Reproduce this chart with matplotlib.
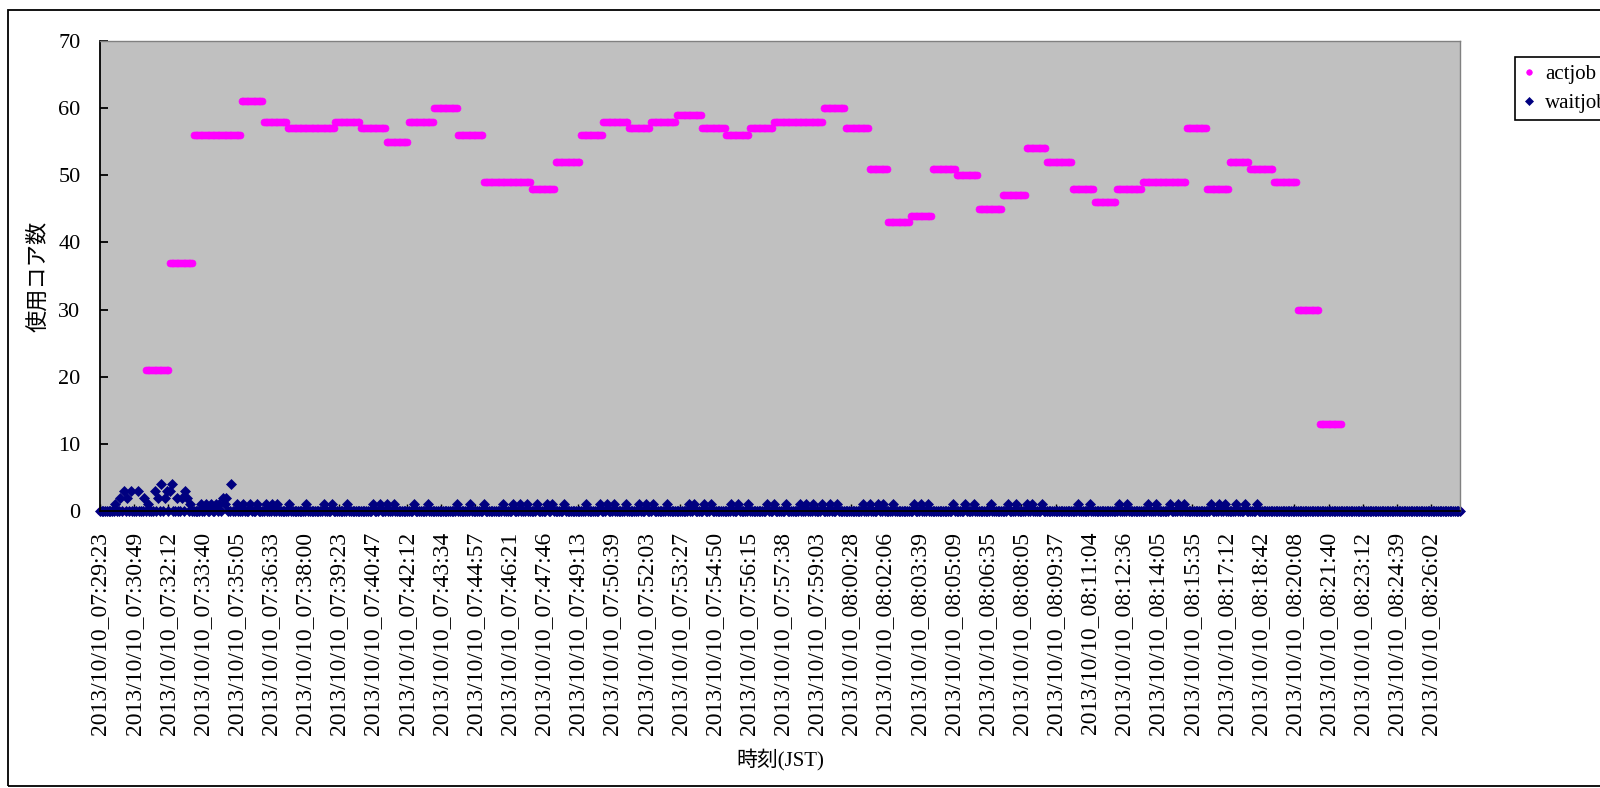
import numpy as np
import matplotlib
matplotlib.use("Agg")
import matplotlib.pyplot as plt
from matplotlib.patches import Rectangle

# latin text in a serif face, japanese falls back to Noto CJK
plt.rcParams['font.family'] = ['Liberation Serif', 'Noto Sans CJK JP']

# category axis: one sample per category, a label every 20 samples
n_samples = 798
label_step = 20

tick_labels = [
    "2013/10/10_07:29:23", "2013/10/10_07:30:49", "2013/10/10_07:32:12", "2013/10/10_07:33:40",
    "2013/10/10_07:35:05", "2013/10/10_07:36:33", "2013/10/10_07:38:00", "2013/10/10_07:39:23",
    "2013/10/10_07:40:47", "2013/10/10_07:42:12", "2013/10/10_07:43:34", "2013/10/10_07:44:57",
    "2013/10/10_07:46:21", "2013/10/10_07:47:46", "2013/10/10_07:49:13", "2013/10/10_07:50:39",
    "2013/10/10_07:52:03", "2013/10/10_07:53:27", "2013/10/10_07:54:50", "2013/10/10_07:56:15",
    "2013/10/10_07:57:38", "2013/10/10_07:59:03", "2013/10/10_08:00:28", "2013/10/10_08:02:06",
    "2013/10/10_08:03:39", "2013/10/10_08:05:09", "2013/10/10_08:06:35", "2013/10/10_08:08:05",
    "2013/10/10_08:09:37", "2013/10/10_08:11:04", "2013/10/10_08:12:36", "2013/10/10_08:14:05",
    "2013/10/10_08:15:35", "2013/10/10_08:17:12", "2013/10/10_08:18:42", "2013/10/10_08:20:08",
    "2013/10/10_08:21:40", "2013/10/10_08:23:12", "2013/10/10_08:24:39", "2013/10/10_08:26:02",
]

# actjob: core count levels and how many samples each level lasts
act_levels = [0, 21, 37, 56, 61, 58, 57, 58, 57, 55,
              58, 60, 56, 49, 48, 52, 56, 58, 57, 58,
              59, 57, 56, 57, 58, 60, 57, 51, 43, 44,
              51, 50, 45, 47, 54, 52, 48, 46, 48, 49,
              57, 48, 52, 51, 49, 30, 13, 0]
act_runs = [27, 14, 14, 28, 13, 14, 28, 15, 15, 13,
            15, 14, 15, 28, 14, 15, 13, 15, 13, 15,
            15, 14, 14, 14, 29, 13, 14, 11, 13, 13,
            14, 13, 14, 14, 12, 15, 13, 13, 15, 26,
            12, 13, 12, 14, 14, 13, 13, 70]

# waitjob: samples with waiting jobs at the start (everything else is 0)
wait_early_at = [9, 12, 14, 16, 18, 22, 26, 28, 32, 34, 36, 38, 39, 41, 42,
                 45, 48, 50, 51, 53, 59, 62, 65, 68, 70, 72, 73, 74, 77]
wait_early_val = [1, 2, 3, 2, 3, 3, 2, 1, 3, 2, 4, 2, 3, 3, 4,
                  2, 2, 3, 2, 1, 1, 1, 1, 1, 1, 2, 1, 2, 4]
# later samples where exactly one job waits
wait_one_at = [80, 84, 88, 92, 97, 101, 104, 111, 121, 131, 136, 145, 160, 164, 168,
               172, 184, 192, 209, 217, 225, 236, 242, 246, 250, 256, 262, 265, 272,
               285, 293, 297, 301, 308, 316, 320, 324, 332, 345, 348, 354, 358, 370,
               374, 380, 391, 395, 402, 410, 414, 418, 423, 428, 432, 447, 451, 456,
               459, 465, 477, 481, 485, 500, 507, 512, 522, 532, 537, 543, 546, 552,
               573, 580, 597, 602, 614, 619, 627, 632, 635, 651, 656, 659, 666, 671, 678]

act = np.repeat(act_levels, act_runs)
wait = np.zeros(n_samples, dtype=int)
wait[wait_early_at] = wait_early_val
wait[wait_one_at] = 1
x = np.arange(n_samples)

fig = plt.figure(figsize=(16, 7.88), dpi=100)
ax = fig.add_axes([100 / 1600, 1 - 511 / 788, 1360 / 1600, 470 / 788])
ax.set_facecolor('#C0C0C0')

ax.plot(x, act, linestyle='none', marker='o', ms=5.0, color='#FF00FF', mec='#FF00FF',
        mew=0.5, clip_on=False, label='actjob', zorder=2)
ax.plot(x, wait, linestyle='none', marker='D', ms=4.7, color='#000080', mec='#000080',
        mew=0.5, clip_on=False, label='waitjob', zorder=2.1)

ax.set_xlim(0, n_samples - 1)
ax.set_ylim(0, 70)
ax.set_yticks(range(0, 71, 10))
ax.set_xticks(x[::label_step])
ax.set_xticklabels(tick_labels, rotation=90, fontsize=17)
ax.tick_params(axis='y', direction='in', length=6, width=1.3, pad=14, labelsize=16)
ax.tick_params(axis='x', direction='in', length=5, width=1, pad=15)

for side in ['left', 'bottom']:
    ax.spines[side].set_color('black')
    ax.spines[side].set_linewidth(1.3)
for side in ['top', 'right']:
    ax.spines[side].set_color('#808080')
    ax.spines[side].set_linewidth(1.0)

ax.set_ylabel('使用コア数', fontsize=16)
ax.yaxis.set_label_coords(-0.045, 0.5)
ax.yaxis.label.set_va('center')
ax.set_xlabel('時刻(JST)', fontsize=15)
ax.xaxis.set_label_coords(0.5, -0.53)
ax.xaxis.label.set_va('center')

leg = ax.legend(loc='upper left', bbox_to_anchor=(1515 / 1600, 1 - 57 / 788),
                bbox_transform=fig.transFigure, frameon=True, fancybox=False,
                edgecolor='black', framealpha=1, fontsize=15, handlelength=0.6,
                handletextpad=0.5, borderpad=0.35, labelspacing=0.45,
                borderaxespad=0, markerscale=0.8)
leg.get_frame().set_linewidth(1.2)

# outer chart border (right side runs off the picture)
fig.patches.append(Rectangle((8 / 1600, 2 / 788), 1.0, 776 / 788, transform=fig.transFigure,
                             fill=False, edgecolor='black', linewidth=1.3))

fig.savefig('out.png', dpi=100)
